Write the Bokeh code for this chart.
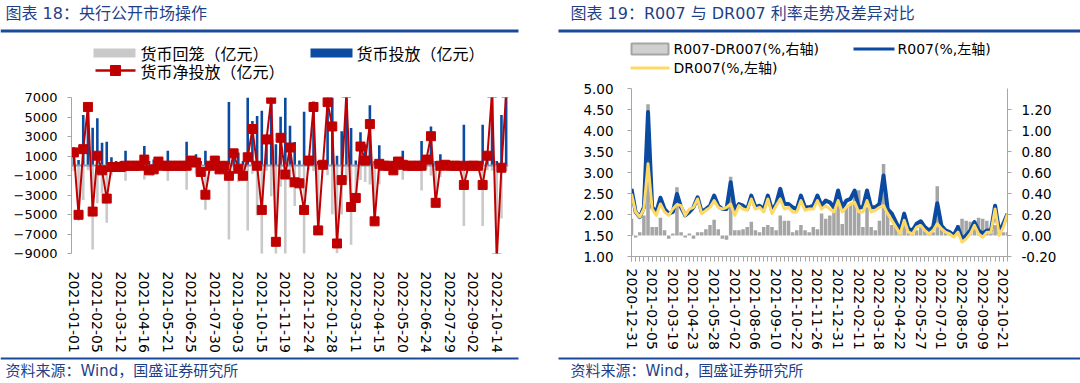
from bokeh.plotting import figure
from bokeh.models import (ColumnDataSource, FixedTicker, LinearAxis, Range1d,
                          NumeralTickFormatter)
from bokeh.layouts import row, column
from bokeh.embed import file_html
from bokeh.resources import INLINE
from bokeh.core.properties import value

# ---------------- data: left panel (央行公开市场操作, 亿元) ----------------
left_tick_labels = ["2021-01-01", "2021-02-05", "2021-03-12", "2021-04-16", "2021-05-21",
                    "2021-06-25", "2021-07-30", "2021-09-03", "2021-10-15", "2021-11-19",
                    "2021-12-24", "2022-01-28", "2022-03-11", "2022-04-15", "2022-05-20",
                    "2022-06-24", "2022-07-29", "2022-09-02", "2022-10-14"]
inject = [1900, 600, 5200, 6500, 3900, 4870, 2370, 2470, 870, 500,
          500, 1530, 500, 500, 500, 2030, 500, 630, 900, 500,
          1530, 500, 500, 500, 2470, 1000, 1170, 500, 1530, 500,
          970, 500, 500, 6530, 1700, 1370, 500, 7500, 4600, 5100,
          5630, 3200, 10000, 2200, 5030, 8600, 4100, 2430, 530, 5530,
          1000, 6600, 500, 500, 7500, 9000, 1030, 3530, 9000, 3870,
          530, 3430, 2200, 6200, 500, 2100, 500, 500, 500, 900,
          1530, 500, 500, 500, 2530, 1000, 4030, 500, 1170, 500,
          500, 500, 500, 4200, 500, 500, 500, 4200, 1500, 8000,
          500, 5200, 8000]
withdraw = [-530, -5630, -3500, -470, -8600, -3840, -2840, -5840, -1000, -630,
            -630, -1530, -500, -500, -500, -1400, -970, -1000, -470, -500,
            -1530, -500, -500, -500, -2470, -470, -840, -1130, -4500, -500,
            -440, -870, -500, -7560, -430, -1670, -1530, -6630, -830, -5100,
            -10160, -500, -3130, -10000, -2160, -9500, -2230, -4130, -2330, -10060,
            -470, -570, -7130, -400, -970, -4970, -9000, -5000, -1500, -8100,
            -3830, -1460, -1670, -1930, -6200, -1900, -500, -500, -970, -470,
            -1430, -500, -500, -500, -2530, -370, -1000, -4300, -1170, -400,
            -500, -500, -500, -6170, -500, -500, -500, -6170, -470, -500,
            -10000, -5400, -500]
net_inject = [1370, -5030, 1700, 6030, -4700, 1030, -470, -3370, -130, -130,
              -130, 0, 0, 0, 0, 630, -470, -370, 430, 0,
              0, 0, 0, 0, 0, 530, 330, -630, -2970, 0,
              530, -370, 0, -1030, 1270, -300, -1030, 870, 3770, 0,
              -4530, 2700, 6870, -7800, 2870, -900, 1870, -1700, -1800, -4530,
              530, 6030, -6630, 100, 6530, 4030, -7970, -1470, 7500, -4230,
              -3300, 1970, 530, 4270, -5700, 200, 0, 0, -470, 430,
              100, 0, 0, 0, 0, 630, 3030, -3800, 0, 100,
              0, 0, 0, -1970, 0, 0, 0, -1970, 1030, 7500,
              -9500, -200, 7500]

# ---------------- data: right panel (R007 / DR007, %) ----------------
right_tick_labels = ["2020-12-31", "2021-02-05", "2021-03-19", "2021-04-23", "2021-05-28",
                     "2021-07-02", "2021-08-06", "2021-09-10", "2021-10-22", "2021-11-26",
                     "2021-12-31", "2022-02-11", "2022-03-18", "2022-04-22", "2022-05-27",
                     "2022-07-01", "2022-08-05", "2022-09-09", "2022-10-21"]
r007 = [2.61, 2.06, 1.94, 2.17, 4.44, 2.17, 2.06, 2.40, 2.13, 2.02,
        2.06, 2.49, 2.17, 1.98, 2.06, 2.17, 2.41, 2.06, 2.13, 2.21,
        2.45, 2.21, 2.13, 2.13, 2.77, 2.10, 2.25, 2.21, 2.13, 2.45,
        2.17, 2.21, 2.13, 2.45, 2.10, 2.25, 2.61, 2.25, 2.25, 2.17,
        2.13, 2.45, 2.17, 2.17, 2.21, 2.45, 2.21, 2.33, 2.29, 2.17,
        2.57, 2.17, 2.33, 2.37, 2.57, 2.17, 2.17, 2.57, 2.17, 2.17,
        2.25, 2.93, 2.13, 2.02, 1.82, 1.62, 2.02, 1.66, 1.62, 1.78,
        1.84, 1.70, 1.62, 1.70, 2.27, 1.74, 1.62, 1.58, 1.50, 1.70,
        1.42, 1.50, 1.62, 1.82, 1.62, 1.54, 1.62, 1.62, 2.21, 1.58,
        1.78, 2.02]
dr007 = [2.49, 2.06, 1.94, 2.13, 3.21, 2.13, 1.98, 2.25, 2.06, 1.98,
         2.13, 2.24, 2.21, 1.98, 2.13, 2.17, 2.37, 2.02, 2.10, 2.17,
         2.33, 2.17, 2.13, 2.17, 2.25, 1.98, 2.21, 2.13, 2.10, 2.37,
         2.13, 2.17, 2.06, 2.37, 2.02, 2.21, 2.37, 2.13, 2.17, 2.06,
         2.06, 2.33, 2.10, 2.13, 2.13, 2.33, 2.13, 2.21, 2.13, 2.06,
         2.33, 2.06, 2.17, 2.25, 2.29, 2.06, 2.06, 2.33, 2.06, 2.10,
         2.17, 2.21, 2.02, 1.86, 1.70, 1.54, 1.86, 1.58, 1.54, 1.70,
         1.74, 1.62, 1.54, 1.62, 1.78, 1.66, 1.58, 1.54, 1.46, 1.58,
         1.34, 1.42, 1.54, 1.74, 1.54, 1.46, 1.58, 1.58, 2.13, 1.50,
         1.70, 2.02]
spread = [0.16, -0.02, 0.03, 0.19, 1.25, 0.08, 0.08, 0.17, 0.05, -0.03,
          0.02, 0.46, 0.03, -0.02, 0.02, -0.03, 0.03, 0.03, 0.06, 0.10,
          0.15, 0.06, -0.03, -0.04, 0.56, 0.05, 0.05, 0.06, 0.08, 0.13,
          0.05, 0.03, 0.08, 0.10, 0.08, 0.05, 0.19, 0.14, 0.14, 0.03,
          0.05, 0.10, 0.05, 0.03, 0.08, 0.06, 0.21, 0.16, 0.19, 0.24,
          0.33, 0.11, 0.27, 0.30, 0.38, 0.43, 0.08, 0.27, 0.08, 0.05,
          0.14, 0.68, 0.22, 0.10, 0.10, 0.08, 0.21, 0.08, 0.02, 0.05,
          0.08, 0.05, 0.03, 0.03, 0.47, 0.08, 0.05, 0.03, 0.03, 0.10,
          0.16, 0.14, 0.13, 0.14, 0.17, 0.16, 0.14, 0.03, 0.10, 0.03,
          0.03, 0.03]

# ---------------- styles ----------------
BLUE = "#0A4AA0"
RED = "#C00000"
GREY_L = "#C9C9C9"
GREY_R = "#A5A5A5"
YELLOW = "#FFD966"
NAVY = "#1F3F88"
RULE = "#1A4A9A"
AXIS = "#A6A6A6"
NUMFONT = "DejaVu Sans"
CJK = "Noto Sans CJK SC"
MIXED = "DejaVu Sans, Noto Sans CJK SC"
PW = 540   # width of one panel


def no_align(p):
    try:
        p.frame_align = False
    except Exception:
        pass


def deco_fig(x0, top, bottom):
    """A blank strip whose data units equal page pixels (y grows downward)."""
    p = figure(width=PW, height=bottom - top, output_backend="svg", toolbar_location=None,
               x_range=Range1d(x0, x0 + PW), y_range=Range1d(bottom, top),
               min_border=0, x_axis_location=None, y_axis_location=None)
    p.outline_line_color = None
    p.grid.visible = False
    no_align(p)
    return p


def put_text(p, x, y, s, size, color="#000000", font=CJK):
    p.text(x=[x], y=[y], text=[s], text_font=value(font), text_font_size=value(size),
           text_color=color, text_baseline="middle", text_align="left")


def put_box(p, l, r, t, b, color, line=None, lw=1):
    p.quad(left=[l], right=[r], top=[t], bottom=[b], fill_color=color,
           line_color=line, line_width=lw)


def plot_fig(height, bl, br, bt, bb, x_range, y_range):
    p = figure(width=PW, height=height, output_backend="svg", toolbar_location=None,
               x_range=x_range, y_range=y_range,
               min_border_left=bl, min_border_right=br,
               min_border_top=bt, min_border_bottom=bb)
    p.outline_line_color = None
    p.grid.visible = False
    no_align(p)
    return p


# ================= left panel =================
h1 = deco_fig(0, 0, 88)
put_text(h1, 5, 12.5, "图表 18：央行公开市场操作", "16px", NAVY, MIXED)
put_box(h1, 0, 518, 29, 32, RULE)
put_box(h1, 93, 135, 48, 57, GREY_L)
put_text(h1, 140, 52.5, "货币回笼（亿元）", "16px")
put_box(h1, 310, 352, 48, 57, BLUE)
put_text(h1, 356, 52.5, "货币投放（亿元）", "16px")
h1.segment(x0=[95], y0=[70], x1=[135], y1=[70], line_color=RED, line_width=2.5)
h1.scatter(x=[115], y=[70], marker="square", size=10, fill_color=RED, line_color=RED)
put_text(h1, 140, 70, "货币净投放（亿元）", "16px")

n1 = len(net_inject)
src1 = ColumnDataSource(dict(x=list(range(n1)), inject=inject,
                             withdraw=withdraw, net=net_inject))
# figure spans page y 88..355; frame x 71..508, y 97..257
p1 = plot_fig(267, 71, 32, 9, 98, Range1d(-0.5, n1 - 0.5), Range1d(-9000, 7000))
p1.vbar(x="x", top="withdraw", width=0.55, source=src1, fill_color=GREY_L, line_color=None)
p1.vbar(x="x", top="inject", width=0.55, source=src1, fill_color=BLUE, line_color=None)
p1.hspan(y=[0], line_color="#8C9AAE", line_width=2)
p1.line(x="x", y="net", source=src1, line_color=RED, line_width=2)
p1.scatter(x="x", y="net", source=src1, marker="square", size=9,
           fill_color=RED, line_color=RED)

p1.yaxis.ticker = FixedTicker(ticks=list(range(-9000, 7001, 2000)))
p1.yaxis.axis_line_color = AXIS
p1.yaxis.major_tick_line_color = AXIS
p1.yaxis.major_tick_out = 4
p1.yaxis.major_tick_in = 0
p1.yaxis.minor_tick_line_color = None
p1.yaxis.major_label_standoff = 10
p1.yaxis.major_label_text_font = NUMFONT
p1.yaxis.major_label_text_font_size = "13px"
p1.yaxis.major_label_text_color = "#000000"

left_pos = [5 * k for k in range(len(left_tick_labels))]
p1.xaxis.ticker = FixedTicker(ticks=left_pos)
p1.xaxis.major_label_overrides = {pos: lab for pos, lab in zip(left_pos, left_tick_labels)}
p1.xaxis.major_label_orientation = "vertical"
p1.xaxis.axis_line_color = None
p1.xaxis.major_tick_line_color = None
p1.xaxis.minor_tick_line_color = None
p1.xaxis.major_label_standoff = 12
p1.xaxis.major_label_text_font = NUMFONT
p1.xaxis.major_label_text_font_size = "14px"
p1.xaxis.major_label_text_color = "#000000"

f1 = deco_fig(0, 355, 383)
put_box(f1, 0, 518, 357, 359, RULE)
put_text(f1, 5, 370, "资料来源：Wind，国盛证券研究所", "15px", NAVY, MIXED)

# ================= right panel =================
h2 = deco_fig(540, 0, 78)
put_text(h2, 570, 12.5, "图表 19：R007 与 DR007 利率走势及差异对比", "16px", NAVY, MIXED)
put_box(h2, 558, 1080, 29, 32, RULE)
put_box(h2, 631, 668, 43, 54, "#D0D0D0", line=GREY_R, lw=2)
put_text(h2, 673, 48.5, "R007-DR007(%,右轴)", "14px", "#000000", MIXED)
h2.segment(x0=[853], y0=[48.5], x1=[894], y1=[48.5], line_color=BLUE, line_width=3)
put_text(h2, 897, 48.5, "R007(%,左轴)", "14px", "#000000", MIXED)
h2.segment(x0=[630], y0=[67.5], x1=[669], y1=[67.5], line_color=YELLOW, line_width=3)
put_text(h2, 673, 67.5, "DR007(%,左轴)", "14px", "#000000", MIXED)

n2 = len(r007)
src2 = ColumnDataSource(dict(x=list(range(n2)), r007=r007, dr007=dr007, spread=spread))
# figure spans page y 78..355; frame x 631..1007, y 88..256
p2 = plot_fig(277, 91, 73, 10, 99, Range1d(0, n2 - 1), Range1d(1.0, 5.0))
p2.extra_y_ranges = {"spread": Range1d(-0.2, 1.4)}
p2.vbar(x="x", top="spread", width=0.85, source=src2, y_range_name="spread",
        fill_color=GREY_R, line_color=None)
p2.line(x="x", y="r007", source=src2, line_color=BLUE, line_width=4, line_join="round")
p2.line(x="x", y="dr007", source=src2, line_color=YELLOW, line_width=3, line_join="round")

p2.yaxis.ticker = FixedTicker(ticks=[1.0 + 0.5 * k for k in range(9)])
p2.yaxis.formatter = NumeralTickFormatter(format="0.00")
ry = LinearAxis(y_range_name="spread")
ry.ticker = FixedTicker(ticks=[-0.2 + 0.2 * k for k in range(9)])
ry.formatter = NumeralTickFormatter(format="0.00")
p2.add_layout(ry, "right")
for ax in [p2.yaxis[0], ry]:
    ax.axis_line_color = AXIS
    ax.major_tick_line_color = AXIS
    ax.major_tick_out = 4
    ax.major_tick_in = 0
    ax.minor_tick_line_color = None
    ax.major_label_text_font = NUMFONT
    ax.major_label_text_font_size = "13.5px"
    ax.major_label_text_color = "#000000"
p2.yaxis[0].major_label_standoff = 14
ry.major_label_standoff = 10

right_pos = [5 * k for k in range(len(right_tick_labels))]
p2.xaxis.ticker = FixedTicker(ticks=right_pos, minor_ticks=list(range(n2)))
p2.xaxis.major_label_overrides = {pos: lab for pos, lab in zip(right_pos, right_tick_labels)}
p2.xaxis.major_label_orientation = "vertical"
p2.xaxis.axis_line_color = AXIS
p2.xaxis.major_tick_line_color = AXIS
p2.xaxis.minor_tick_line_color = AXIS
p2.xaxis.major_tick_out = 5
p2.xaxis.major_tick_in = 0
p2.xaxis.minor_tick_out = 5
p2.xaxis.minor_tick_in = 0
p2.xaxis.major_label_standoff = 7
p2.xaxis.major_label_text_font = NUMFONT
p2.xaxis.major_label_text_font_size = "14px"
p2.xaxis.major_label_text_color = "#000000"

f2 = deco_fig(540, 355, 383)
put_box(f2, 558, 1080, 357, 359, RULE)
put_text(f2, 570, 370, "资料来源：Wind，国盛证券研究所", "15px", NAVY, MIXED)

layout = row(column(h1, p1, f1), column(h2, p2, f2))
open("out.html", "w").write(file_html(layout, INLINE))
